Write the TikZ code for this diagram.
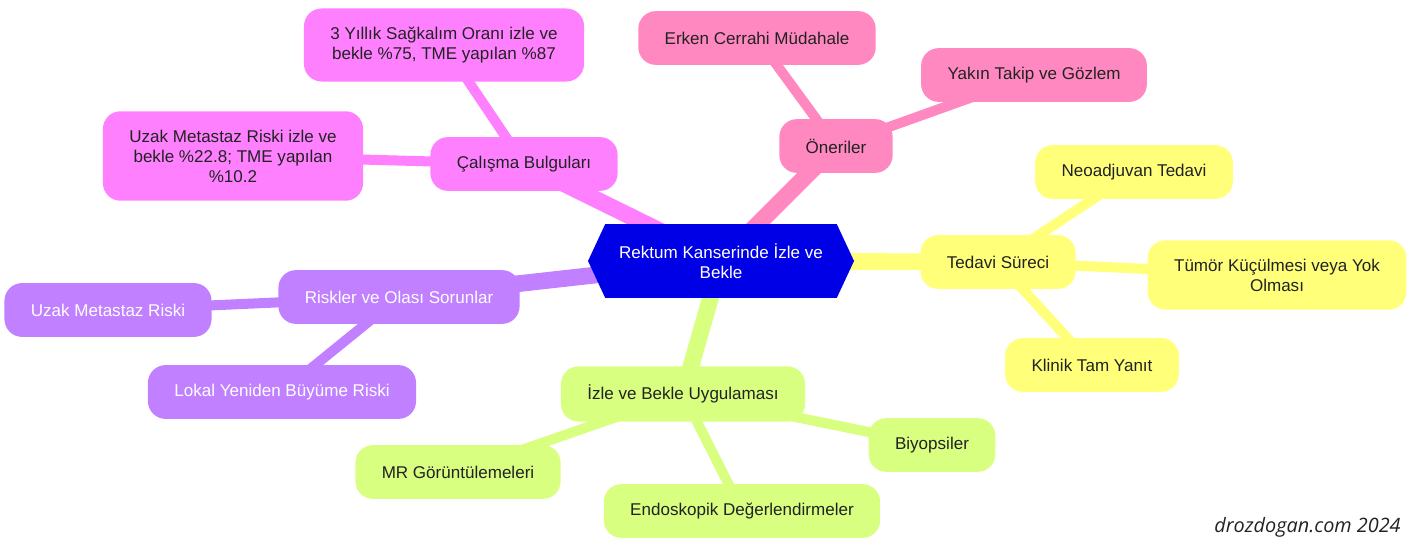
\documentclass[tikz,border=0pt]{standalone}
\usepackage{fontspec}
\setmainfont{Liberation Sans}
\newfontfamily\markfont{Open Sans}
\usetikzlibrary{shapes.symbols,backgrounds}

\definecolor{rootblue}{HTML}{0000E6}
\definecolor{secyellow}{HTML}{FFFF7A}
\definecolor{secgreen}{HTML}{D9FF80}
\definecolor{secpurple}{HTML}{C080FF}
\definecolor{secmagenta}{HTML}{FF80FF}
\definecolor{secpink}{HTML}{FF88C0}
\definecolor{inkgray}{HTML}{222222}

\begin{document}
\begin{tikzpicture}[x=0.02cm, y=-0.02cm,
    topic/.style={rounded corners=10pt, inner xsep=15pt, inner ysep=10.5pt,
        minimum height=30.6pt, align=center, text=inkgray,
        font=\fontsize{9.7}{11.4}\selectfont},
    trunk/.style={line width=9.5pt},
    twig/.style={line width=5.7pt}]
    % Canvas
    \useasboundingbox (0,0) rectangle (1412,550);

    % Central topic
    \node[signal, signal to=west and east, signal pointer angle=130,
        fill=rootblue, text=white, minimum width=151.4pt, minimum height=42pt,
        align=center, font=\fontsize{9.7}{11.4}\selectfont]
        (root) at (721,261) {Rektum Kanserinde İzle ve\\Bekle};

    % Recommendations
    \node[topic, fill=secpink] (oner) at (836,146) {Öneriler};
    \node[topic, fill=secpink] (erken) at (757,38) {Erken Cerrahi Müdahale};
    \node[topic, fill=secpink] (yakin) at (1034,75) {Yakın Takip ve Gözlem};

    % Study findings
    \node[topic, fill=secmagenta] (bulgu) at (524,164) {Çalışma Bulguları};
    \node[topic, fill=secmagenta] (sagkalim) at (444,45)
        {3 Yıllık Sağkalım Oranı izle ve\\bekle \%75, TME yapılan \%87};
    \node[topic, fill=secmagenta] (metoran) at (233,156)
        {Uzak Metastaz Riski izle ve\\bekle \%22.8; TME yapılan\\\%10.2};

    % Treatment course
    \node[topic, fill=secyellow] (tedavi) at (998,262) {Tedavi Süreci};
    \node[topic, fill=secyellow] (neo) at (1134,172) {Neoadjuvan Tedavi};
    \node[topic, fill=secyellow] (tumor) at (1277,275)
        {Tümör Küçülmesi veya Yok\\Olması};
    \node[topic, fill=secyellow] (klinik) at (1092,365) {Klinik Tam Yanıt};

    % Risks
    \node[topic, fill=secpurple, text=white] (risk) at (399,297) {Riskler ve Olası Sorunlar};
    \node[topic, fill=secpurple, text=white] (uzak) at (108,310) {Uzak Metastaz Riski};
    \node[topic, fill=secpurple, text=white] (lokal) at (282,392) {Lokal Yeniden Büyüme Riski};

    % Practice
    \node[topic, fill=secgreen] (izle) at (683,394) {İzle ve Bekle Uygulaması};
    \node[topic, fill=secgreen] (biyo) at (932,445) {Biyopsiler};
    \node[topic, fill=secgreen] (mr) at (458,472) {MR Görüntülemeleri};
    \node[topic, fill=secgreen] (endo) at (742,511) {Endoskopik Değerlendirmeler};

    % Branches behind the boxes
    \begin{scope}[on background layer]
        \draw[trunk, secpink] (root.center) -- (oner.center);
        \draw[twig, secpink] (oner.center) -- (erken.center);
        \draw[twig, secpink] (oner.center) -- (yakin.center);
        \draw[trunk, secmagenta] (root.center) -- (bulgu.center);
        \draw[twig, secmagenta] (bulgu.center) -- (sagkalim.center);
        \draw[twig, secmagenta] (bulgu.center) -- (metoran.center);
        \draw[trunk, secyellow] (root.center) -- (tedavi.center);
        \draw[twig, secyellow] (tedavi.center) -- (neo.center);
        \draw[twig, secyellow] (tedavi.center) -- (tumor.center);
        \draw[twig, secyellow] (tedavi.center) -- (klinik.center);
        \draw[trunk, secpurple] (root.center) -- (risk.center);
        \draw[twig, secpurple] (risk.center) -- (uzak.center);
        \draw[twig, secpurple] (risk.center) -- (lokal.center);
        \draw[trunk, secgreen] (root.center) -- (izle.center);
        \draw[twig, secgreen] (izle.center) -- (biyo.center);
        \draw[twig, secgreen] (izle.center) -- (mr.center);
        \draw[twig, secgreen] (izle.center) -- (endo.center);
    \end{scope}

    % Watermark
    \node[anchor=east, inner sep=0pt, text=inkgray,
        font=\markfont\itshape\fontsize{11.3}{13}\selectfont]
        (mark) at (1401,527) {drozdogan.com 2024};
\end{tikzpicture}
\end{document}
